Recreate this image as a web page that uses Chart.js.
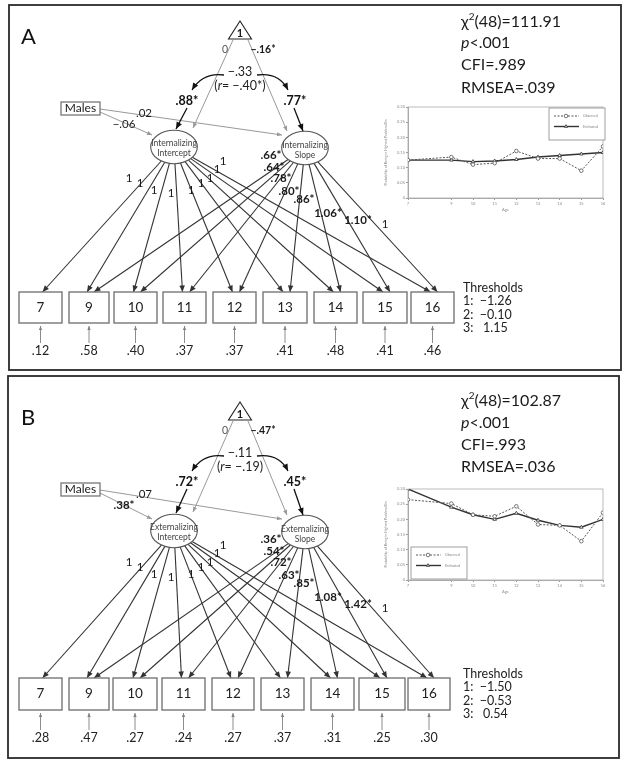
<!DOCTYPE html>
<html>
<head>
<meta charset="utf-8">
<script src="https://cdn.jsdelivr.net/npm/chart.js@4.4.1/dist/chart.umd.min.js"></script>
<style>
html, body { margin: 0; padding: 0; background: #fff; }
#wrap { position: relative; width: 626px; height: 762px; }
.box { position: absolute; }
</style>
</head>
<body>
<div id="wrap">
  <div class="box" style="left:0;top:0;width:626px;height:762px"><canvas id="diagram"></canvas></div>
  <div class="box" style="left:380px;top:98px;width:228px;height:116px"><canvas id="miniA"></canvas></div>
  <div class="box" style="left:380px;top:480px;width:228px;height:116px"><canvas id="miniB"></canvas></div>
</div>
<script>
// ---- data ----
const ages = [7, 9, 10, 11, 12, 13, 14, 15, 16];
const yTicks = [0, 0.05, 0.1, 0.15, 0.2, 0.25, 0.3];

// probability of being in highest problem bin (small inset charts)
const observedA = [0.125, 0.135, 0.11, 0.115, 0.155, 0.13, 0.13, 0.09, 0.17];
const estimatedA = [0.125, 0.125, 0.12, 0.122, 0.127, 0.135, 0.14, 0.145, 0.15];
const observedB = [0.265, 0.252, 0.215, 0.21, 0.243, 0.183, 0.18, 0.128, 0.222];
const estimatedB = [0.30, 0.24, 0.215, 0.20, 0.22, 0.197, 0.18, 0.174, 0.20];

// path model estimates
const interceptLoad = ['1', '1', '1', '1', '1', '1', '1', '1', '1'];
const slopeLoadA = ['.66*', '.64*', '.78*', '.80*', '.86*', '1.06*', '1.10*', '1'];
const slopeLoadB = ['.36*', '.54*', '.72*', '.63*', '.85*', '1.08*', '1.42*', '1'];
const residA = ['.12', '.58', '.40', '.37', '.37', '.41', '.48', '.41', '.46'];
const residB = ['.28', '.47', '.27', '.24', '.27', '.37', '.31', '.25', '.30'];
const thresholdsA = ['\u22121.26', '\u22120.10', ' 1.15'];
const thresholdsB = ['\u22121.50', '\u22120.53', ' 0.54'];
const meansA = ['0', '\u2212.16*'];
const meansB = ['0', '\u2212.47*'];
const variancesA = ['.88*', '.77*'];
const variancesB = ['.72*', '.45*'];
const covA = ['\u2212.33', '\u2212.40*'];
const covB = ['\u2212.11', '\u2212.19'];
const malesA = ['\u2212.06', '.02'];
const malesB = ['.38*', '.07'];
const fitA = ['48', '111.91', '.001', '.989', '.039'];
const fitB = ['48', '102.87', '.001', '.993', '.036'];

const FONT = 'Lato, "Open Sans", sans-serif';

// ---- layout ----
const panels = [
  { letter: 'A', factor: 'Internalizing', top: 0, mid: 0, boxTop: 292, boxH: 31, frame: [9, 5, 621, 370],
    fitY: [22, 43, 65, 88],
    boxLeft: [19, 69, 114, 163, 213, 263, 314, 363, 411], boxW: [43, 40, 43, 43, 43, 44, 43, 44, 43],
    slope: slopeLoadA, resid: residA, thr: thresholdsA, means: meansA, vars: variancesA, cov: covA, males: malesA, fit: fitA },
  { letter: 'B', factor: 'Externalizing', top: 381, mid: 384, boxTop: 678, boxH: 32, frame: [8, 376, 619, 758],
    fitY: [401, 423, 445, 467],
    boxLeft: [19, 69, 113, 162, 212, 261, 311, 359, 408], boxW: [43, 40, 44, 43, 42, 43, 43, 46, 42],
    slope: slopeLoadB, resid: residB, thr: thresholdsB, means: meansB, vars: variancesB, cov: covB, males: malesB, fit: fitB }
];
const intLabelPos = [[129, 178], [140, 183], [154, 190], [171, 193], [191, 190], [201, 183], [210, 178], [217, 169], [223, 161]];
const slopeLabelPos = [[271, 155], [274, 167], [281, 178], [289, 191], [304, 199], [328, 213], [358, 220], [385, 224]];

// ---- drawing helpers ----
function fnt(p) { return (p.i ? 'italic ' : '') + (p.b ? 'bold ' : '') + p.s + 'px ' + FONT; }

function runs(g, parts, x, y, align) {
  const ctx = g.ctx;
  ctx.textBaseline = 'middle';
  ctx.textAlign = 'left';
  let total = 0;
  parts.forEach(pt => { ctx.font = fnt(pt); pt.w = ctx.measureText(pt.t).width; total += pt.w; });
  let cx = g.X(x) - (align === 'center' ? total / 2 : align === 'right' ? total : 0);
  parts.forEach(pt => {
    ctx.font = fnt(pt);
    ctx.fillStyle = pt.c || '#1a1a1a';
    ctx.fillText(pt.t, cx, g.Y(y) + (pt.dy || 0));
    cx += pt.w;
  });
}

function label(g, s, x, y, size, color, align) {
  runs(g, [{ t: s, s: size, b: s.indexOf('*') >= 0, c: color }], x, y, align || 'center');
}

function line(g, x1, y1, x2, y2, color, lw) {
  const ctx = g.ctx;
  ctx.strokeStyle = color; ctx.lineWidth = lw;
  ctx.beginPath(); ctx.moveTo(g.X(x1), g.Y(y1)); ctx.lineTo(g.X(x2), g.Y(y2)); ctx.stroke();
}

function head(g, fx, fy, x2, y2, color, size) {
  const ctx = g.ctx;
  const a = Math.atan2(g.Y(y2) - g.Y(fy), g.X(x2) - g.X(fx));
  const px = g.X(x2), py = g.Y(y2);
  ctx.fillStyle = color;
  ctx.beginPath();
  ctx.moveTo(px, py);
  ctx.lineTo(px - size * Math.cos(a) + size * 0.42 * Math.sin(a), py - size * Math.sin(a) - size * 0.42 * Math.cos(a));
  ctx.lineTo(px - size * Math.cos(a) - size * 0.42 * Math.sin(a), py - size * Math.sin(a) + size * 0.42 * Math.cos(a));
  ctx.closePath(); ctx.fill();
}

function arrow(g, x1, y1, x2, y2, color, lw, size) {
  line(g, x1, y1, x2, y2, color, lw);
  head(g, x1, y1, x2, y2, color, size);
}

function curve(g, x1, y1, cx, cy, x2, y2, color, lw, size) {
  const ctx = g.ctx;
  ctx.strokeStyle = color; ctx.lineWidth = lw;
  ctx.beginPath(); ctx.moveTo(g.X(x1), g.Y(y1));
  ctx.quadraticCurveTo(g.X(cx), g.Y(cy), g.X(x2), g.Y(y2)); ctx.stroke();
  head(g, cx, cy, x2, y2, color, size);
}

function edge(e, tx, ty) {
  const dx = tx - e.x, dy = ty - e.y;
  const k = 1 / Math.sqrt((dx / e.rx) ** 2 + (dy / e.ry) ** 2);
  return [e.x + dx * k, e.y + dy * k];
}

function drawPanel(g, p) {
  const ctx = g.ctx, t = p.top, m = p.mid;
  const dark = '#333', gray = '#999';
  const ei = { x: 174, y: 147 + m, rx: 23.3, ry: 16.7 };
  const es = { x: 305, y: 148 + m, rx: 23.3, ry: 16.7 };
  const bTop = p.boxTop, bBot = p.boxTop + p.boxH;

  // frame
  const f = p.frame;
  ctx.strokeStyle = '#2a2a2a'; ctx.lineWidth = 1.8;
  ctx.strokeRect(g.X(f[0]), g.Y(f[1]), g.X(f[2]) - g.X(f[0]), g.Y(f[3]) - g.Y(f[1]));

  // gray paths: mean triangle and males
  arrow(g, 233, 40 + t, 193, 128 + m, gray, 1, 5);
  arrow(g, 248, 40 + t, 287, 131 + m, gray, 1, 5);
  arrow(g, 100, 112 + t, 152, 135 + m, gray, 1, 5);
  arrow(g, 100, 109 + t, 282, 135 + m, gray, 1, 5);

  // loadings
  p.boxLeft.forEach((bl, i) => {
    const bx = bl + p.boxW[i] / 2;
    const ex = bx + (i === 0 ? 2 : -2);
    const s = edge(ei, ex, bTop);
    arrow(g, s[0], s[1], ex, bTop, dark, 1.1, 6.5);
    if (i > 0) {
      const sx = bx + 5;
      const s2 = edge(es, sx, bTop);
      arrow(g, s2[0], s2[1], sx, bTop, dark, 1.1, 6.5);
    }
    // residual
    arrow(g, bx, bBot + 20, bx, bBot + 3, '#808080', 0.9, 4);
  });

  // variances and covariance
  arrow(g, 187, 108 + t, 176, 129 + m, '#111', 1.3, 7);
  arrow(g, 294, 108 + t, 303, 131 + m, '#111', 1.3, 7);
  curve(g, 224, 75 + t, 203, 72 + t, 192, 90 + t, '#111', 1.3, 7);
  curve(g, 257, 75 + t, 279, 72 + t, 288, 90 + t, '#111', 1.3, 7);

  // triangle
  ctx.strokeStyle = '#222'; ctx.lineWidth = 1.1; ctx.fillStyle = '#fff';
  ctx.beginPath();
  ctx.moveTo(g.X(240), g.Y(21 + t)); ctx.lineTo(g.X(251.5), g.Y(39 + t)); ctx.lineTo(g.X(228.5), g.Y(39 + t));
  ctx.closePath(); ctx.fill(); ctx.stroke();
  runs(g, [{ t: '1', s: 11, b: true }], 240, 33 + t, 'center');

  // ellipses
  [ei, es].forEach((e, k) => {
    ctx.strokeStyle = '#555'; ctx.lineWidth = 1.1; ctx.fillStyle = '#fff';
    ctx.beginPath();
    ctx.ellipse(g.X(e.x), g.Y(e.y), e.rx, e.ry, 0, 0, Math.PI * 2);
    ctx.fill(); ctx.stroke();
    runs(g, [{ t: p.factor, s: 8.5, c: '#444' }], e.x, e.y - 4 + (k ? 1 : 0), 'center');
    runs(g, [{ t: k ? 'Slope' : 'Intercept', s: 8.5, c: '#444' }], e.x, e.y + 6 + (k ? 1 : 0), 'center');
  });

  // males box
  ctx.strokeStyle = '#777'; ctx.lineWidth = 1.3; ctx.fillStyle = '#fff';
  ctx.fillRect(g.X(61), g.Y(102 + t), 39, 13); ctx.strokeRect(g.X(61), g.Y(102 + t), 39, 13);
  runs(g, [{ t: 'Males', s: 12, c: '#222' }], 80.5, 108.5 + t, 'center');

  // observed boxes
  p.boxLeft.forEach((bl, i) => {
    ctx.strokeStyle = '#777'; ctx.lineWidth = 1.4; ctx.fillStyle = '#fff';
    ctx.fillRect(g.X(bl), g.Y(bTop), p.boxW[i], p.boxH);
    ctx.strokeRect(g.X(bl), g.Y(bTop), p.boxW[i], p.boxH);
    const bx = bl + p.boxW[i] / 2;
    runs(g, [{ t: String(ages[i]), s: 13.5, c: '#222' }], bx, bTop + p.boxH / 2, 'center');
    runs(g, [{ t: p.resid[i], s: 12.5, c: '#222' }], bx, bBot + 28, 'center');
    label(g, interceptLoad[i], intLabelPos[i][0], intLabelPos[i][1] + m, 11.5, '#1a1a1a');
  });
  p.slope.forEach((s, i) => label(g, s, slopeLabelPos[i][0], slopeLabelPos[i][1] + m, 11.5, '#1a1a1a'));

  // labels near the top
  runs(g, [{ t: p.letter, s: 22, c: '#111' }], 21, 37 + t, 'left');
  label(g, p.means[0], 225, 50 + t, 10.5, '#555');
  label(g, p.means[1], 263, 50 + t, 10.5, '#1a1a1a');
  label(g, p.cov[0], 240, 72 + t, 12.5, '#222');
  runs(g, [{ t: '(', s: 12.5, c: '#222' }, { t: 'r', s: 12.5, i: true, c: '#222' }, { t: '= ' + p.cov[1] + ')', s: 12.5, c: '#222' }], 240, 86 + t, 'center');
  label(g, p.vars[0], 187, 101 + t, 12.5, '#111');
  label(g, p.vars[1], 295, 101 + t, 12.5, '#111');
  label(g, p.males[0], 124, 124 + t, 11.5, '#1a1a1a');
  label(g, p.males[1], 144, 113 + t, 11.5, '#1a1a1a');

  // thresholds
  runs(g, [{ t: 'Thresholds', s: 12.5, c: '#222' }], 463, bTop - 4, 'left');
  p.thr.forEach((v, i) => runs(g, [{ t: (i + 1) + ':  ' + v, s: 12.5, c: '#222' }], 463, bTop + 9 + i * 13.5, 'left'));

  // fit statistics
  const fy = p.fitY, fs = 16;
  runs(g, [{ t: '\u03c7', s: fs }, { t: '2', s: 10, dy: -5 }, { t: '(' + p.fit[0] + ')=' + p.fit[1], s: fs }], 461, fy[0], 'left');
  runs(g, [{ t: 'p', s: fs, i: true }, { t: '<' + p.fit[2], s: fs }], 461, fy[1], 'left');
  runs(g, [{ t: 'CFI=' + p.fit[3], s: fs }], 461, fy[2], 'left');
  runs(g, [{ t: 'RMSEA=' + p.fit[4], s: fs }], 461, fy[3], 'left');
}

const pathDiagram = {
  id: 'pathDiagram',
  afterDraw(chart) {
    const sx = chart.scales.x, sy = chart.scales.y;
    const g = { ctx: chart.ctx, X: v => sx.getPixelForValue(v), Y: v => sy.getPixelForValue(v) };
    chart.ctx.save();
    panels.forEach(p => drawPanel(g, p));
    chart.ctx.restore();
  }
};

new Chart(document.getElementById('diagram'), {
  type: 'scatter',
  data: { datasets: [] },
  options: {
    responsive: true, maintainAspectRatio: false, animation: false,
    layout: { padding: 0 },
    plugins: { legend: { display: false }, tooltip: { enabled: false } },
    scales: {
      x: { type: 'linear', min: 0, max: 626, display: false },
      y: { type: 'linear', min: 0, max: 762, reverse: true, display: false }
    }
  },
  plugins: [pathDiagram]
});

// ---- inset charts ----
const plotFrame = {
  id: 'plotFrame',
  beforeDatasetsDraw(chart) {
    const { ctx, chartArea: a } = chart;
    ctx.save();
    ctx.strokeStyle = '#aaa'; ctx.lineWidth = 0.8;
    ctx.strokeRect(a.left, a.top, a.right - a.left, a.bottom - a.top);
    ctx.restore();
  }
};

const miniLegend = {
  id: 'miniLegend',
  afterDatasetsDraw(chart, args, opts) {
    const { ctx, chartArea: a } = chart;
    const w = 56, h = 32;
    const x = opts.corner === 'tr' ? a.right - w + 2 : a.left + 3;
    const y = opts.corner === 'tr' ? a.top + 1 : a.bottom - h - 1;
    ctx.save();
    ctx.fillStyle = '#fff'; ctx.strokeStyle = '#888'; ctx.lineWidth = 0.8;
    ctx.fillRect(x, y, w, h); ctx.strokeRect(x, y, w, h);
    chart.data.datasets.forEach((ds, i) => {
      const ly = y + 8 + i * 10.5;
      ctx.strokeStyle = ds.borderColor; ctx.lineWidth = ds.borderWidth;
      ctx.setLineDash(ds.borderDash || []);
      ctx.beginPath(); ctx.moveTo(x + 5, ly); ctx.lineTo(x + 30, ly); ctx.stroke();
      ctx.setLineDash([]);
      ctx.fillStyle = '#fff'; ctx.strokeStyle = ds.borderColor; ctx.lineWidth = 0.8;
      Chart.helpers.drawPoint(ctx, { pointStyle: ds.pointStyle, radius: 1.8, borderWidth: 0.8 }, x + 17, ly);
      ctx.fillStyle = '#888'; ctx.font = '3.5px ' + FONT; ctx.textBaseline = 'middle'; ctx.textAlign = 'left';
      ctx.fillText(ds.label, x + 34, ly);
    });
    ctx.restore();
  }
};

function inset(id, observed, estimated, corner) {
  const tickFont = { size: 4, family: FONT };
  return new Chart(document.getElementById(id), {
    type: 'line',
    data: {
      datasets: [
        { label: 'Observed', data: ages.map((a, i) => ({ x: a, y: observed[i] })),
          borderColor: '#555', borderWidth: 1, borderDash: [2, 1.5], pointStyle: 'circle',
          pointRadius: 1.8, pointBackgroundColor: '#fff', pointBorderColor: '#555', pointBorderWidth: 0.8, tension: 0 },
        { label: 'Estimated', data: ages.map((a, i) => ({ x: a, y: estimated[i] })),
          borderColor: '#333', borderWidth: 1.4, pointStyle: 'triangle',
          pointRadius: 2, pointBackgroundColor: '#fff', pointBorderColor: '#333', pointBorderWidth: 0.8, tension: 0 }
      ]
    },
    options: {
      responsive: true, maintainAspectRatio: false, animation: false,
      layout: { padding: { left: 4, right: 5, top: 9, bottom: 2 } },
      plugins: { legend: { display: false }, tooltip: { enabled: false }, miniLegend: { corner: corner } },
      scales: {
        x: {
          type: 'linear', min: 7, max: 16,
          afterBuildTicks: s => { s.ticks = ages.map(v => ({ value: v })); },
          afterFit: s => { s.height = 14; },
          grid: { drawOnChartArea: false, tickLength: 2, color: '#999' },
          border: { color: '#aaa' },
          ticks: { font: tickFont, color: '#888', padding: 1, maxRotation: 0, autoSkip: false },
          title: { display: true, text: 'Age', font: tickFont, color: '#888', padding: 0 }
        },
        y: {
          min: 0, max: 0.3,
          afterBuildTicks: s => { s.ticks = yTicks.map(v => ({ value: v })); },
          afterFit: s => { s.width = 24; },
          grid: { drawOnChartArea: false, tickLength: 2, color: '#999' },
          border: { color: '#aaa' },
          ticks: { font: tickFont, color: '#888', padding: 1 },
          title: { display: true, text: 'Probability of Being in Highest Problem Bin', font: { size: 3.5, family: FONT }, color: '#888', padding: 0 }
        }
      }
    },
    plugins: [plotFrame, miniLegend]
  });
}

inset('miniA', observedA, estimatedA, 'tr');
inset('miniB', observedB, estimatedB, 'bl');
</script>
</body>
</html>
